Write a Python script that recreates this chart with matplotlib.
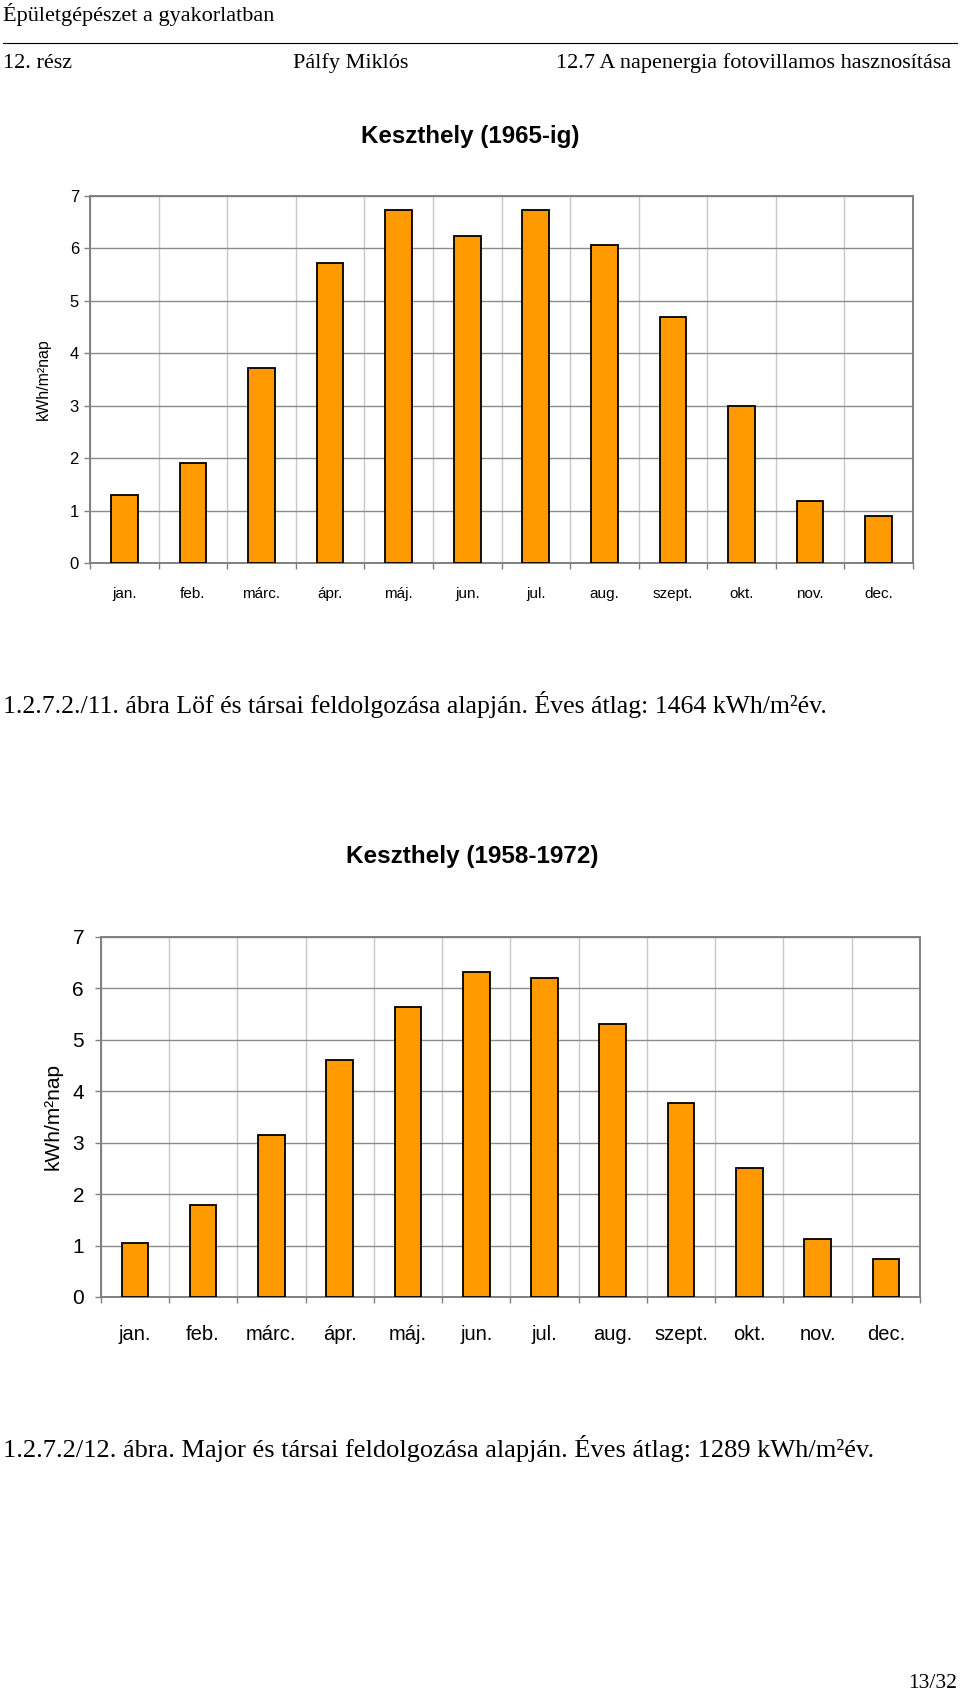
import matplotlib.pyplot as plt
import numpy as np

months = ["jan.", "feb.", "márc.", "ápr.", "máj.", "jun.", "jul.", "aug.",
          "szept.", "okt.", "nov.", "dec."]
keszthely_1965 = [1.29, 1.91, 3.72, 5.73, 6.74, 6.23, 6.74, 6.06, 4.69, 2.99, 1.18, 0.89]
keszthely_1958_72 = [1.05, 1.79, 3.15, 4.60, 5.64, 6.32, 6.21, 5.31, 3.78, 2.50, 1.12, 0.74]
y_ticks = list(range(8))

W, H = 960, 1696
SERIF = ["Liberation Serif", "DejaVu Serif"]
SANS = ["Liberation Sans", "DejaVu Sans"]

fig = plt.figure(figsize=(W / 100, H / 100), dpi=100)


def box(left, top, right, bottom):
    # pixel box -> figure fraction rect
    return [left / W, 1 - bottom / H, (right - left) / W, (bottom - top) / H]


def put(x, y, s, **kw):
    fig.text(x / W, 1 - y / H, s, **kw)


def bar_chart(ax, values, tick_size, xlab_size, ylab_size, xpad, ypad, label_x):
    x = np.arange(len(months))
    ax.bar(x, values, width=0.39, color="#ff9900", edgecolor="black",
           linewidth=1.3, zorder=3)
    ax.set_xlim(-0.5, len(months) - 0.5)
    ax.set_ylim(0, 7)
    ax.set_yticks(y_ticks)
    ax.set_xticks(x)
    ax.set_xticklabels(months, family=SANS, fontsize=xlab_size)
    ax.set_xticks(np.arange(-0.5, len(months)), minor=True)
    for lab in ax.get_yticklabels():
        lab.set_family(SANS)
        lab.set_fontsize(tick_size)
    ax.tick_params(axis="x", which="major", length=0, pad=xpad)
    ax.tick_params(axis="x", which="minor", length=4, color="#808080", width=1)
    ax.tick_params(axis="y", length=4, color="#808080", width=1, pad=ypad)
    ax.grid(axis="y", which="major", color="#8c8c8c", linewidth=1)
    ax.grid(axis="x", which="minor", color="#c8c8c8", linewidth=1)
    ax.set_axisbelow(True)
    for sp in ax.spines.values():
        sp.set_color("#808080")
        sp.set_linewidth(1.4)
    ax.set_ylabel("kWh/m²nap", family=SANS, fontsize=ylab_size)
    ax.yaxis.set_label_coords(label_x, 0.5)


# page header
put(3, 15, "Épületgépészet a gyakorlatban", family=SERIF, fontsize=16, va="center")
fig.add_artist(plt.Line2D([3 / W, 957 / W], [1 - 43 / H, 1 - 43 / H],
                          color="black", linewidth=0.8))
put(3, 63, "12. rész", family=SERIF, fontsize=16, va="center")
put(293, 63, "Pálfy Miklós", family=SERIF, fontsize=16, va="center")
put(951, 63, "12.7 A napenergia fotovillamos hasznosítása", family=SERIF,
    fontsize=16, va="center", ha="right")

# first chart
put(470, 137, "Keszthely (1965-ig)", family=SANS, fontsize=17.4, weight="bold",
    ha="center", va="center")
ax1 = fig.add_axes(box(90, 196, 913, 563))
bar_chart(ax1, keszthely_1965, 12, 11, 11.5, 17, 4, -0.047)
put(3, 705, "1.2.7.2./11. ábra Löf és társai feldolgozása alapján. Éves átlag: 1464 kWh/m²év.",
    family=SERIF, fontsize=18.5, va="center")

# second chart
put(472, 857, "Keszthely (1958-1972)", family=SANS, fontsize=17.5, weight="bold",
    ha="center", va="center")
ax2 = fig.add_axes(box(100.7, 937, 920, 1297))
bar_chart(ax2, keszthely_1958_72, 15, 14.5, 15, 20, 8, -0.047)
put(3, 1449, "1.2.7.2/12. ábra. Major és társai feldolgozása alapján. Éves átlag: 1289 kWh/m²év.",
    family=SERIF, fontsize=19, va="center")

put(957, 1683, "13/32", family=SERIF, fontsize=15.5, ha="right", va="center")

fig.savefig("out.png", dpi=100)
